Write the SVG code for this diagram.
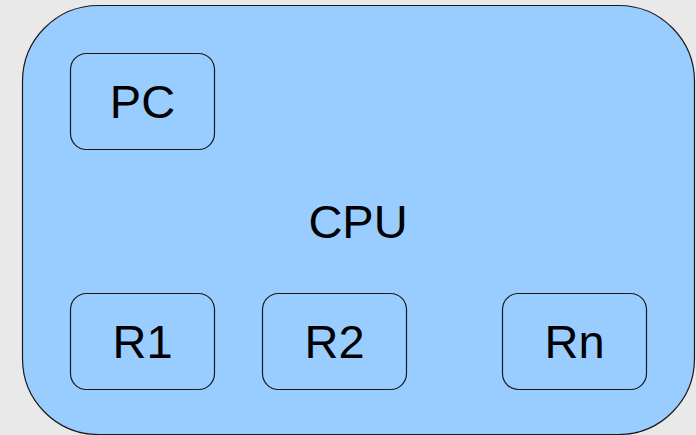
<svg xmlns="http://www.w3.org/2000/svg" width="696" height="435" viewBox="0 0 696 435">
<style>
.box{fill:#99ccff;stroke:#1a1a1a;stroke-width:1.2}
.lbl{font-family:"Liberation Sans",Arial,sans-serif;font-size:47px;fill:#000;text-anchor:middle}
</style>
<rect x="0" y="0" width="696" height="435" fill="#e9e9e9"/>
<g id="cpu">
<rect class="box" x="22.5" y="5.5" width="672" height="429" rx="76" ry="76"/>
<text class="lbl" x="358" y="238">CPU</text>
</g>
<g id="pc">
<rect class="box" x="70.5" y="53.5" width="144" height="96" rx="16" ry="16"/>
<text class="lbl" x="142.5" y="118">PC</text>
</g>
<g id="r1">
<rect class="box" x="70.5" y="293.5" width="144" height="96" rx="16" ry="16"/>
<text class="lbl" x="142.5" y="358">R1</text>
</g>
<g id="r2">
<rect class="box" x="262.5" y="293.5" width="144" height="96" rx="16" ry="16"/>
<text class="lbl" x="334.5" y="358">R2</text>
</g>
<g id="rn">
<rect class="box" x="502.5" y="293.5" width="144" height="96" rx="16" ry="16"/>
<text class="lbl" x="574.5" y="358">Rn</text>
</g>
<g id="connectors"/>
</svg>
